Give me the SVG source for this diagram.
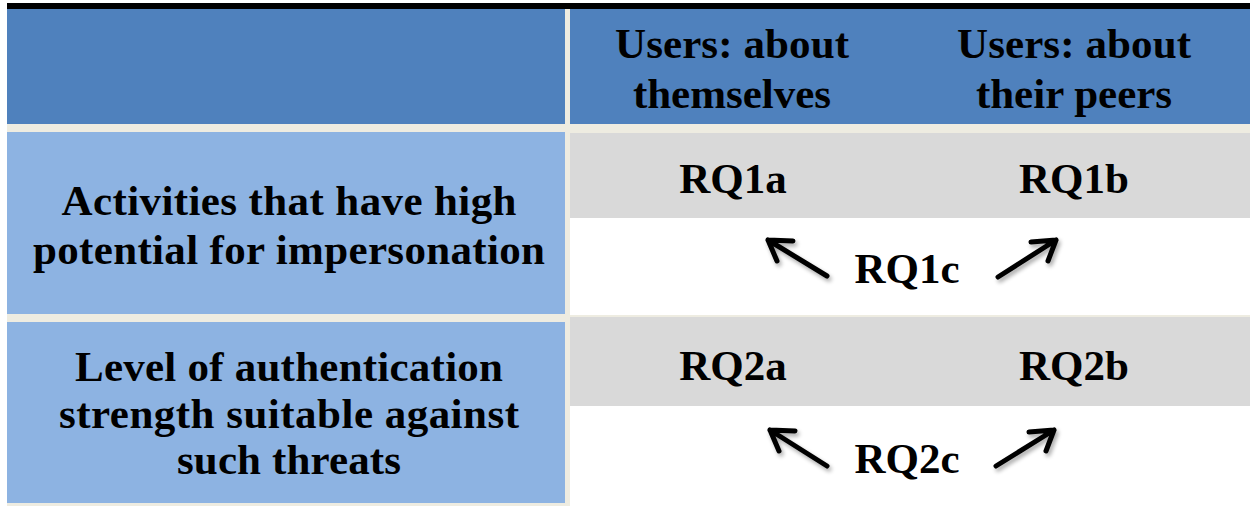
<svg xmlns="http://www.w3.org/2000/svg" width="1250" height="506" viewBox="0 0 1250 506">
<style>
.t{font-family:"Liberation Serif","Times New Roman",serif;font-weight:bold;font-size:43px;fill:#000;text-anchor:middle}
.arr{stroke:#000;stroke-width:5;fill:none;stroke-linecap:round;stroke-linejoin:round}
</style>
<defs>
<filter id="sh" x="-30%" y="-30%" width="160%" height="160%">
<feGaussianBlur in="SourceAlpha" stdDeviation="2"/>
<feOffset dx="2" dy="3"/>
<feComponentTransfer><feFuncA type="linear" slope="0.35"/></feComponentTransfer>
<feMerge><feMergeNode/><feMergeNode in="SourceGraphic"/></feMerge>
</filter>
</defs>
<rect x="0" y="0" width="1250" height="506" fill="#fff"/>
<rect x="7" y="9" width="1243" height="497" fill="#EEECE1"/>
<rect x="7" y="3" width="1243" height="6" fill="#000"/>
<g id="header">
<rect x="7" y="9" width="558" height="115" fill="#4F81BD"/>
<rect x="570" y="9" width="680" height="115" fill="#4F81BD"/>
</g>
<g id="col1-head"><text class="t" x="732" y="58" textLength="234" lengthAdjust="spacing">Users: about</text><text class="t" x="732" y="108">themselves</text></g>
<g id="col2-head"><text class="t" x="1074" y="58" textLength="234" lengthAdjust="spacing">Users: about</text><text class="t" x="1074" y="108">their peers</text></g>
<g id="row1-head">
<rect x="7" y="132" width="558" height="182" fill="#8DB3E2"/>
<text class="t" x="289" y="215" textLength="455" lengthAdjust="spacing">Activities that have high</text>
<text class="t" x="289" y="264" textLength="512" lengthAdjust="spacing">potential for impersonation</text>
</g>
<g id="row2-head">
<rect x="7" y="322" width="558" height="181" fill="#8DB3E2"/>
<text class="t" x="289" y="381" textLength="428" lengthAdjust="spacing">Level of authentication</text>
<text class="t" x="289" y="428" textLength="460" lengthAdjust="spacing">strength suitable against</text>
<text class="t" x="289" y="474" textLength="224" lengthAdjust="spacing">such threats</text>
</g>
<g id="row1-cells">
<rect x="570" y="133" width="680" height="85" fill="#D9D9D9"/>
<rect x="570" y="218" width="680" height="97" fill="#fff"/>
<text class="t" x="733" y="193">RQ1a</text>
<text class="t" x="1074" y="193">RQ1b</text>
<text class="t" x="907" y="283">RQ1c</text>
</g>
<g id="row2-cells">
<rect x="570" y="317" width="680" height="89" fill="#D9D9D9"/>
<rect x="570" y="406" width="680" height="100" fill="#fff"/>
<text class="t" x="733" y="380">RQ2a</text>
<text class="t" x="1074" y="380">RQ2b</text>
<text class="t" x="907" y="473">RQ2c</text>
</g>
<g id="connectors" filter="url(#sh)">
<path class="arr" d="M827,276 L768,240 M768,240 L793,241 M768,240 L777,261"/>
<path class="arr" d="M998,277 L1056,240 M1056,240 L1031,242 M1056,240 L1048,261"/>
<path class="arr" d="M827,466 L770,430 M770,430 L795,431 M770,430 L779,451"/>
<path class="arr" d="M996,466 L1054,430 M1054,430 L1029,432 M1054,430 L1046,451"/>
</g>
</svg>
